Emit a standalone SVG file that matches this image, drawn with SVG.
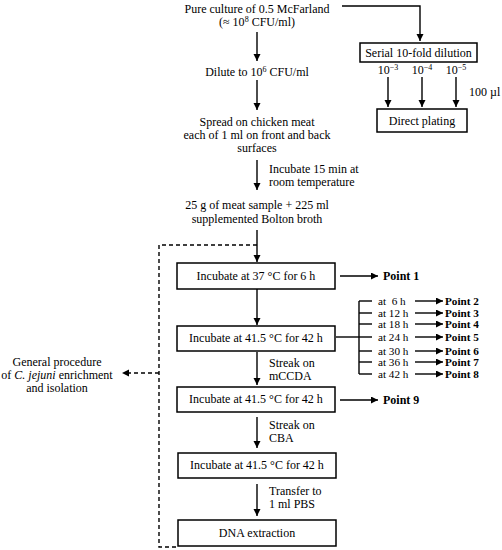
<svg xmlns="http://www.w3.org/2000/svg" width="502" height="550" viewBox="0 0 502 550">
<defs>
<marker id="ah" markerWidth="8" markerHeight="8" refX="7" refY="3.5" orient="auto" markerUnits="userSpaceOnUse">
<path d="M0,0 L7,3.5 L0,7 Z" fill="#000"/>
</marker>
<style>
text{font-family:"Liberation Serif","Times New Roman",serif;font-size:12px;fill:#000}
.c{text-anchor:middle}
.b{font-weight:bold}
.s{font-size:11.2px}
.box{fill:#fff;stroke:#000;stroke-width:1.5}
.ln{fill:none;stroke:#000;stroke-width:1.4}
.ar{fill:none;stroke:#000;stroke-width:1.4;marker-end:url(#ah)}
.ds{fill:none;stroke:#000;stroke-width:1.4;stroke-dasharray:4,3}
.sup{font-size:8px}
</style>
</defs>
<g id="connectors">
<line class="ar" x1="257" y1="32" x2="257" y2="61"/>
<polyline class="ar" points="342,6 420,6 420,41"/>
<line class="ar" x1="388" y1="77" x2="388" y2="107"/>
<line class="ar" x1="422" y1="77" x2="422" y2="107"/>
<line class="ar" x1="456" y1="77" x2="456" y2="107"/>
<line class="ar" x1="257" y1="80" x2="257" y2="110"/>
<line class="ar" x1="257" y1="160" x2="257" y2="190"/>
<line class="ar" x1="257" y1="230" x2="257" y2="262"/>
<line class="ar" x1="340" y1="276" x2="378" y2="276"/>
<line class="ar" x1="257" y1="289" x2="257" y2="325"/>
<line class="ln" x1="336" y1="337" x2="359" y2="337"/>
<line class="ln" x1="359" y1="301" x2="359" y2="374"/>
<line class="ln" x1="359" y1="301" x2="372" y2="301"/>
<line class="ln" x1="359" y1="313" x2="372" y2="313"/>
<line class="ln" x1="359" y1="324" x2="372" y2="324"/>
<line class="ln" x1="359" y1="337" x2="372" y2="337"/>
<line class="ln" x1="359" y1="351" x2="372" y2="351"/>
<line class="ln" x1="359" y1="362" x2="372" y2="362"/>
<line class="ln" x1="359" y1="374" x2="372" y2="374"/>
<line class="ar" x1="415" y1="301" x2="443" y2="301"/>
<line class="ar" x1="415" y1="313" x2="443" y2="313"/>
<line class="ar" x1="415" y1="324" x2="443" y2="324"/>
<line class="ar" x1="415" y1="337" x2="443" y2="337"/>
<line class="ar" x1="415" y1="351" x2="443" y2="351"/>
<line class="ar" x1="415" y1="362" x2="443" y2="362"/>
<line class="ar" x1="415" y1="374" x2="443" y2="374"/>
<line class="ar" x1="257" y1="352" x2="257" y2="385"/>
<line class="ar" x1="340" y1="400" x2="378" y2="400"/>
<line class="ar" x1="257" y1="417" x2="257" y2="448"/>
<line class="ar" x1="257" y1="484" x2="257" y2="516"/>
<polyline class="ds" points="257,245 159,245 159,547 178,547"/>
<line class="ds" x1="159" y1="373" x2="129" y2="373"/>
<path d="M122,373 L129,369.5 L129,376.5 Z" fill="#000"/>
</g>
<g id="n-pure"><text class="c" x="257" y="13">Pure culture of 0.5 McFarland</text>
<text class="c" x="257" y="26">(≈ 10<tspan class="sup" dy="-4">8</tspan><tspan dy="4"> CFU/ml)</tspan></text></g>
<g id="n-dilute"><text class="c" x="257" y="76">Dilute to 10<tspan class="sup" dy="-4">6</tspan><tspan dy="4"> CFU/ml</tspan></text></g>
<g id="n-serial"><rect class="box" x="360" y="43" width="117" height="19"/><text class="c" x="418.5" y="57">Serial 10-fold dilution</text></g>
<g id="l-dil">
<text class="c" x="388" y="74">10<tspan class="sup" dy="-4">−3</tspan></text>
<text class="c" x="422" y="74">10<tspan class="sup" dy="-4">−4</tspan></text>
<text class="c" x="456" y="74">10<tspan class="sup" dy="-4">−5</tspan></text>
<text x="469" y="96">100 µl</text>
</g>
<g id="n-direct"><rect class="box" x="377" y="109" width="90" height="23"/><text class="c" x="422" y="125">Direct plating</text></g>
<g id="n-spread"><text class="c" x="257" y="126">Spread on chicken meat</text>
<text class="c" x="257" y="139">each of 1 ml on front and back</text>
<text class="c" x="257" y="152">surfaces</text></g>
<g id="l-inc15"><text x="269" y="173">Incubate 15 min at</text><text x="269" y="186">room temperature</text></g>
<g id="n-meat"><text class="c" x="257" y="209">25 g of meat sample + 225 ml</text>
<text class="c" x="257" y="223">supplemented Bolton broth</text></g>
<g id="n-inc37"><rect class="box" x="177" y="263" width="158" height="26"/><text class="c" x="256" y="280">Incubate at 37 °C for 6 h</text></g>
<g id="n-p1"><text class="b" x="383" y="280">Point 1</text></g>
<g id="n-inc42a"><rect class="box" x="177" y="326" width="158" height="25"/><text class="c" x="256" y="342">Incubate at 41.5 °C for 42 h</text></g>
<g id="l-times" class="s">
<text class="s" x="378" y="305" xml:space="preserve">at  6 h</text>
<text class="s" x="378" y="316.5">at 12 h</text>
<text class="s" x="378" y="327.5">at 18 h</text>
<text class="s" x="378" y="341">at 24 h</text>
<text class="s" x="378" y="355">at 30 h</text>
<text class="s" x="378" y="366">at 36 h</text>
<text class="s" x="378" y="377.5">at 42 h</text>
</g>
<g id="n-points">
<text class="b s" x="445" y="305">Point 2</text>
<text class="b s" x="445" y="316.5">Point 3</text>
<text class="b s" x="445" y="327.5">Point 4</text>
<text class="b s" x="445" y="341">Point 5</text>
<text class="b s" x="445" y="355">Point 6</text>
<text class="b s" x="445" y="366">Point 7</text>
<text class="b s" x="445" y="377.5">Point 8</text>
</g>
<g id="n-general"><text class="c" x="57" y="366">General procedure</text>
<text class="c" x="57" y="379">of <tspan font-style="italic">C. jejuni</tspan> enrichment</text>
<text class="c" x="57" y="392">and isolation</text></g>
<g id="l-mccda"><text x="269" y="367">Streak on</text><text x="269" y="380">mCCDA</text></g>
<g id="n-inc42b"><rect class="box" x="177" y="387" width="158" height="25"/><text class="c" x="256" y="403">Incubate at 41.5 °C for 42 h</text></g>
<g id="n-p9"><text class="b" x="383" y="404">Point 9</text></g>
<g id="l-cba"><text x="269" y="429">Streak on</text><text x="269" y="442">CBA</text></g>
<g id="n-inc42c"><rect class="box" x="178" y="453" width="158" height="25"/><text class="c" x="257" y="469">Incubate at 41.5 °C for 42 h</text></g>
<g id="l-pbs"><text x="269" y="495">Transfer to</text><text x="269" y="508">1 ml PBS</text></g>
<g id="n-dna"><rect class="box" x="178" y="520" width="158" height="26"/><text class="c" x="257" y="537">DNA extraction</text></g>
</svg>
